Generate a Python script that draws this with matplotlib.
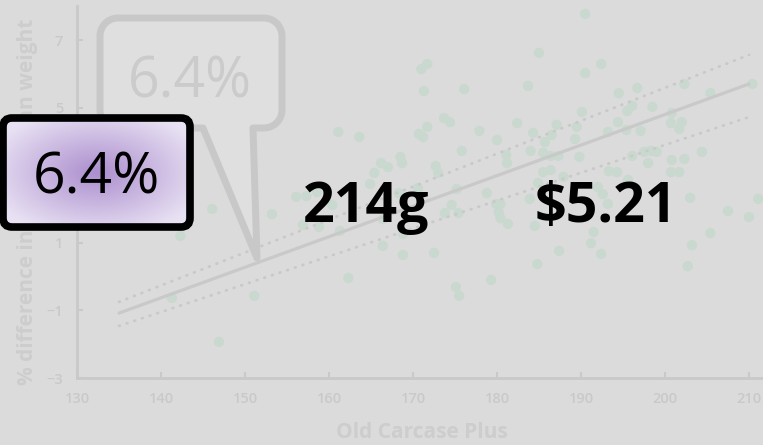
import numpy as np
from matplotlib import pyplot as plt
from matplotlib.patches import FancyBboxPatch, PathPatch
from matplotlib.path import Path

# Old Carcase Plus score vs % difference in carcase lean weight
old_cp = [146.1, 142.3, 153.2, 156.1, 157.3, 141.3, 151.1, 146.9, 161.1, 163.6,
          166.2, 167.0, 168.5, 168.7, 165.4, 164.9, 168.3, 158.6, 160.4, 156.9,
          158.8, 161.3, 166.4, 168.8, 168.8, 166.4, 162.3, 170.6, 190.5, 185.0,
          171.0, 171.7, 190.5, 192.4, 171.3, 176.1, 183.7, 194.5, 196.7, 202.3,
          205.4, 210.4, 190.1, 198.5, 196.1, 195.5, 200.8, 200.7, 202.0, 201.7,
          194.4, 195.4, 197.1, 193.2, 173.7, 174.4, 171.7, 170.7, 171.2, 177.9,
          182.4, 187.1, 186.5, 184.3, 189.5, 180.0, 189.3, 185.7, 175.8, 184.0,
          185.5, 186.4, 187.3, 189.8, 181.1, 181.2, 196.1, 197.5, 198.3, 199.0,
          204.4, 200.8, 202.3, 198.0, 172.7, 173.0, 186.4, 185.5, 193.3, 194.3,
          200.7, 201.7, 187.9, 195.6, 184.9, 175.2, 178.8, 179.9, 180.4, 183.9,
          192.0, 192.6, 193.2, 203.0, 211.1, 174.6, 173.8, 175.4, 180.2, 180.4,
          181.3, 184.5, 191.5, 191.2, 192.4, 172.5, 187.4, 184.8, 203.2, 205.4,
          207.5, 210.0, 202.7, 179.3, 175.1, 175.5]
pct_diff = [2.00, 1.20, 1.85, 2.36, 2.38, -0.63, -0.57, -1.93, 4.28, 4.13,
            3.36, 3.24, 3.54, 3.36, 3.07, 2.74, 2.47, 2.50, 2.12, 1.53,
            1.47, 1.35, 0.91, 0.64, 1.26, 1.70, -0.04, 2.62, 7.77, 6.62,
            6.14, 6.29, 6.02, 6.29, 5.49, 5.55, 5.64, 5.43, 5.58, 5.70,
            5.43, 5.70, 4.87, 5.02, 5.05, 4.90, 4.84, 4.54, 4.57, 4.37,
            4.57, 4.34, 4.31, 4.28, 4.69, 4.57, 4.43, 4.22, 4.13, 4.31,
            4.54, 4.49, 4.19, 4.25, 4.43, 4.04, 4.07, 3.98, 3.72, 3.72,
            3.66, 3.57, 3.57, 3.54, 3.60, 3.36, 3.57, 3.69, 3.72, 3.69,
            3.69, 3.45, 3.48, 3.36, 3.27, 3.07, 3.15, 3.09, 3.12, 3.09,
            3.09, 3.09, 2.95, 2.86, 2.77, 2.59, 2.47, 2.15, 2.15, 2.30,
            2.65, 2.44, 2.15, 2.33, 2.30, 2.12, 1.88, 1.88, 1.91, 1.73,
            1.56, 1.50, 1.32, 0.99, 0.67, 0.70, 0.76, 0.37, 0.93, 1.29,
            1.94, 1.76, 0.31, -0.10, -0.31, -0.57]

# regression line and the two dotted bounds
fit_x = [135, 210]
fit_y = [-1.08, 5.70]
upper_y = [-0.75, 6.56]
lower_y = [-1.46, 4.72]

x_ticks = [130, 140, 150, 160, 170, 180, 190, 200, 210]
y_ticks = [-3, -1, 1, 3, 5, 7]

gain_pct = "6.4%"
gain_weight = "214g"
gain_value = "$5.21"

plt.rcParams['font.family'] = ['Open Sans', 'DejaVu Sans']

bg = '#dbdbdb'
faint = '#c9c9c9'

fig = plt.figure(figsize=(7.63, 4.45), dpi=100, facecolor=bg)
ax = fig.add_axes([77/763, 67/445, 693/763, 371.8/445], facecolor=bg)

ax.scatter(old_cp, pct_diff, s=55, color='#c9d9cf', edgecolors='none', zorder=2)
ax.plot(fit_x, fit_y, color=faint, lw=2.3, zorder=3, solid_capstyle='round')
ax.plot(fit_x, upper_y, color=faint, lw=2, ls=(0, (0.3, 2.6)), dash_capstyle='round', zorder=3)
ax.plot(fit_x, lower_y, color=faint, lw=2, ls=(0, (0.3, 2.6)), dash_capstyle='round', zorder=3)

ax.set_xlim(130, 212.5)
ax.set_ylim(-3, 8)
ax.set_xticks(x_ticks)
ax.set_yticks(y_ticks)
ax.tick_params(direction='in', length=4, width=1.5, color=faint, labelcolor=faint,
               labelsize=10.5, pad=10)
for lab in ax.get_xticklabels() + ax.get_yticklabels():
    lab.set_fontweight('semibold')
for side in ['top', 'right']:
    ax.spines[side].set_visible(False)
for side in ['left', 'bottom']:
    ax.spines[side].set_color(faint)
    ax.spines[side].set_linewidth(2)

xl = ax.set_xlabel("Old Carcase Plus", fontsize=15, fontweight='bold', color='#cdcdcd')
ax.xaxis.set_label_coords(0.498, -54/371.8)
xl.set_va('center')
yl = ax.set_ylabel("% difference in carcase lean weight", fontsize=15, fontweight='bold',
                   color='#cdcdcd')
ax.yaxis.set_label_coords(-49/693, 176/371.8)
yl.set_va('center')

# overlay in pixel units for the callouts
ov = fig.add_axes([0, 0, 1, 1])
ov.set_xlim(0, 763)
ov.set_ylim(445, 0)
ov.axis('off')


def arc(cx, cy, r, a0, a1, n=12):
    t = np.radians(np.linspace(a0, a1, n))
    return list(zip(cx + r * np.cos(t), cy + r * np.sin(t)))


# speech bubble
r = 18
x0, x1, y0, y1 = 100, 282, 18, 128
pts = []
pts += arc(x0 + r, y0 + r, r, 180, 270)
pts += arc(x1 - r, y0 + r, r, 270, 360)
pts += arc(x1 - r, y1 - r, r, 0, 90)
pts += [(253, y1), (257, 258), (203, y1)]
pts += arc(x0 + r, y1 - r, r, 90, 180)
pts.append(pts[0])
codes = [Path.MOVETO] + [Path.LINETO] * (len(pts) - 2) + [Path.CLOSEPOLY]
bubble = PathPatch(Path(pts, codes), facecolor='#dfdfe0', edgecolor='#c8c8c8', lw=5,
                   joinstyle='round', zorder=5)
ov.add_patch(bubble)
ov.text(190, 97, gain_pct, fontsize=40, color='#cbcbcb', ha='center', va='baseline', zorder=6)

# purple value box with radial shading
bx0, by0, bw, bh = 3, 118, 187, 109
box = FancyBboxPatch((bx0, by0), bw, bh, boxstyle='round,pad=0,rounding_size=9',
                     facecolor='none', edgecolor='black', lw=5.5, zorder=9)
gx, gy = np.meshgrid(np.linspace(-1, 1, 200), np.linspace(-1, 1, 120))
dist = np.clip(np.sqrt(gx ** 2 + gy ** 2) / 1.2, 0, 1)[..., None]
inner = np.array([172, 142, 206]) / 255
outer = np.array([232, 225, 243]) / 255
grad = inner * (1 - dist) + outer * dist
img = ov.imshow(grad, extent=(bx0, bx0 + bw, by0 + bh, by0), aspect='auto',
                zorder=8, interpolation='bilinear')
clip = FancyBboxPatch((bx0, by0), bw, bh, boxstyle='round,pad=0,rounding_size=9',
                      facecolor='none', edgecolor='none', transform=ov.transData)
img.set_clip_path(clip)
ov.add_patch(box)
ov.set_xlim(0, 763)
ov.set_ylim(445, 0)
ov.text(96, 193, gain_pct, fontsize=41, color='black', ha='center', va='baseline', zorder=10)

ov.text(366, 222, gain_weight, fontsize=40, fontweight='bold', color='black',
        ha='center', va='baseline', zorder=10)
ov.text(606, 222, gain_value, fontsize=40, fontweight='bold', color='black',
        ha='center', va='baseline', zorder=10)

fig.savefig('out.png', dpi=100, facecolor=bg)
